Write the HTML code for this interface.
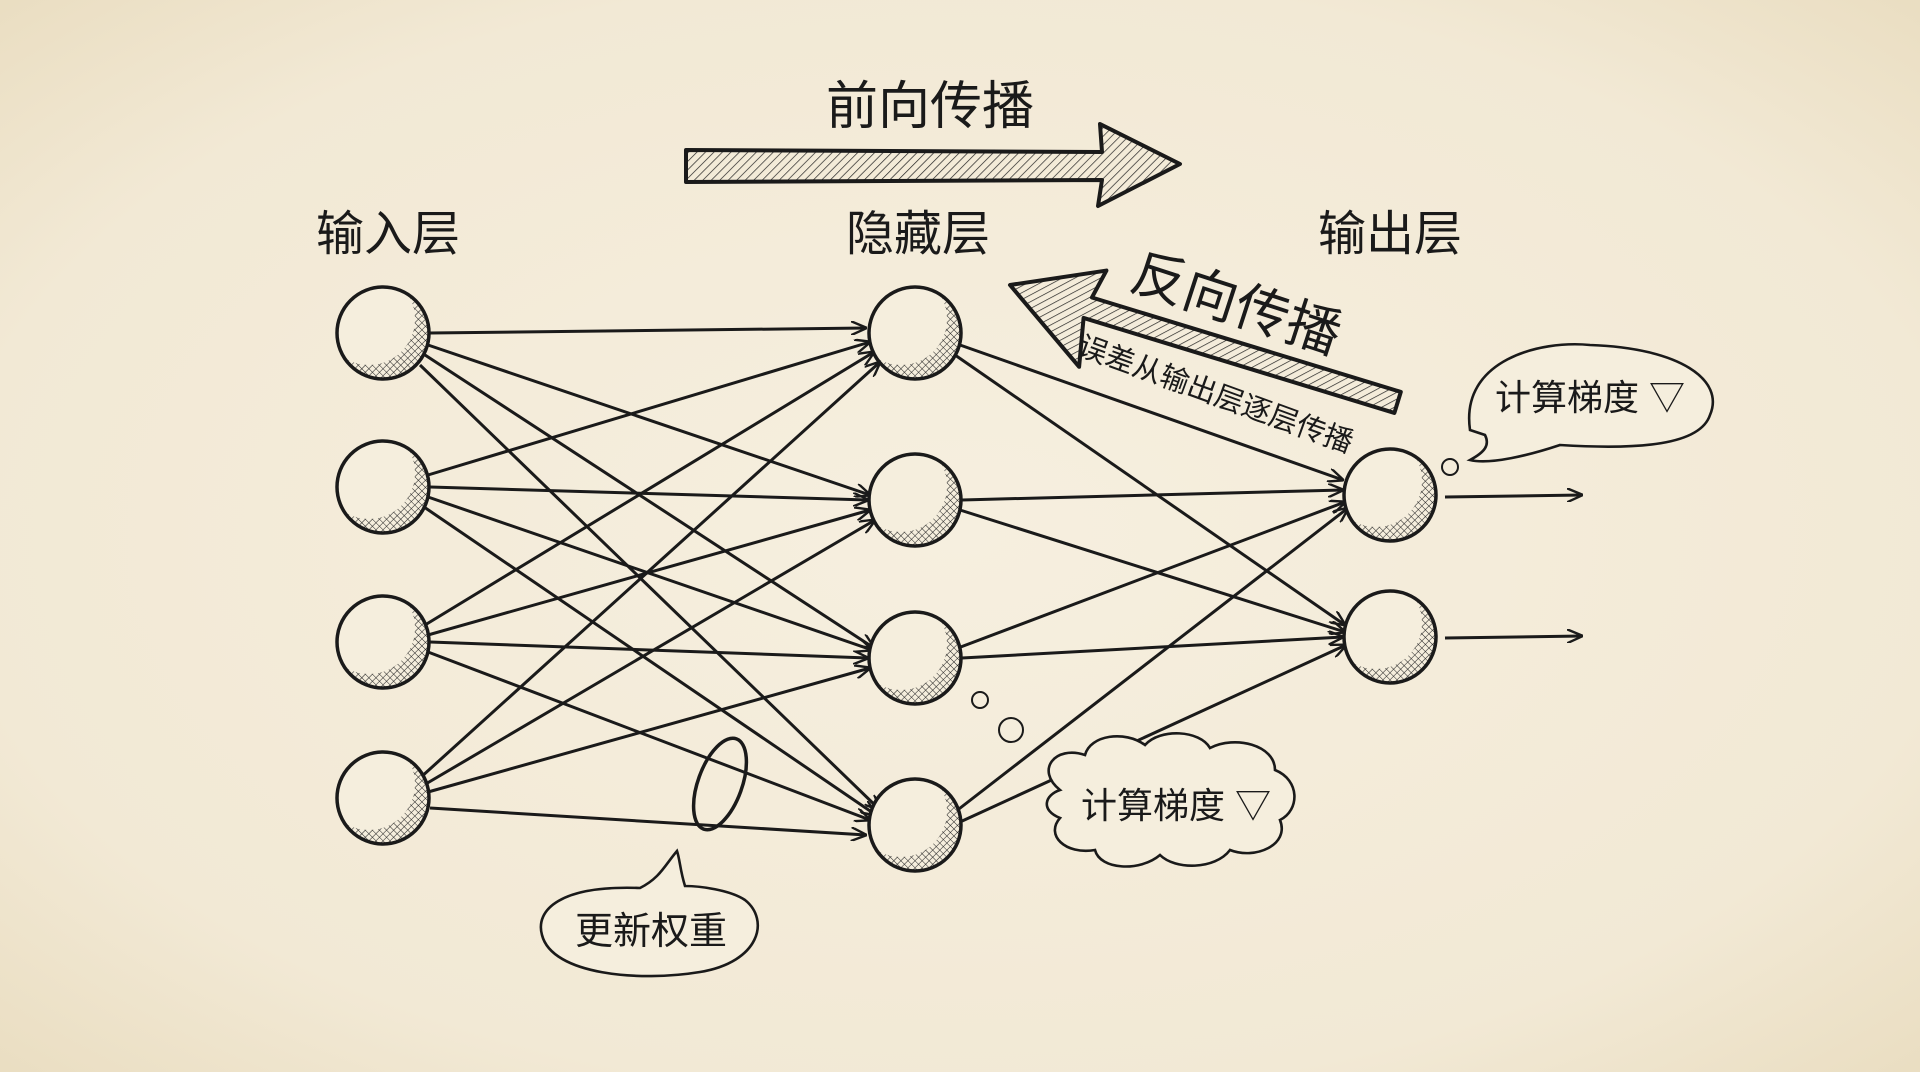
<!DOCTYPE html>
<html><head><meta charset="utf-8"><style>
html,body{margin:0;padding:0}
body{width:1920px;height:1072px;overflow:hidden;background:#f3ebd9;}
svg{display:block}
text{font-family:"Liberation Sans","Noto Sans CJK SC",sans-serif;fill:#1a1a1a}
</style></head><body>
<svg width="1920" height="1072" viewBox="0 0 1920 1072" xmlns="http://www.w3.org/2000/svg">
<defs>
<radialGradient id="bg" cx="50%" cy="50%" r="75%">
<stop offset="0" stop-color="#f6efdf"/><stop offset="0.7" stop-color="#f2e9d5"/><stop offset="1" stop-color="#e8dbbd"/>
</radialGradient>
<pattern id="hatch" width="6" height="6" patternUnits="userSpaceOnUse" patternTransform="rotate(45)">
<line x1="0" y1="0" x2="0" y2="6" stroke="#222" stroke-width="1.4"/></pattern>
<pattern id="cross" width="5" height="5" patternUnits="userSpaceOnUse" patternTransform="rotate(45)">
<path d="M0 0V5M0 0H5" stroke="#222" stroke-width="1.1"/></pattern>
<mask id="cres">
<circle r="46" fill="#fff"/><circle cx="-14" cy="-14" r="46" fill="#000"/>
</mask>
<marker id="ah" markerWidth="16" markerHeight="14" refX="15" refY="7" orient="auto" markerUnits="userSpaceOnUse">
<path d="M0 0L16 7L0 14" fill="none" stroke="#1a1a1a" stroke-width="2.4"/></marker>
<g id="node">
<circle r="46" fill="#f5eedd"/>
<circle r="46" fill="url(#cross)" mask="url(#cres)"/>
<circle r="46" fill="none" stroke="#1a1a1a" stroke-width="3.5"/>
</g>
</defs>
<rect width="1920" height="1072" fill="url(#bg)"/>

<g stroke="#1a1a1a" stroke-width="3" fill="none" marker-end="url(#ah)">
<line x1="430" y1="333" x2="866" y2="328"/>
<line x1="428" y1="345" x2="870" y2="495"/>
<line x1="425" y1="355" x2="874" y2="648"/>
<line x1="420" y1="365" x2="880" y2="810"/>
<line x1="428" y1="475" x2="870" y2="342"/>
<line x1="430" y1="487" x2="868" y2="500"/>
<line x1="428" y1="497" x2="872" y2="650"/>
<line x1="424" y1="507" x2="876" y2="815"/>
<line x1="425" y1="625" x2="874" y2="352"/>
<line x1="428" y1="635" x2="870" y2="510"/>
<line x1="430" y1="642" x2="868" y2="658"/>
<line x1="428" y1="652" x2="870" y2="820"/>
<line x1="420" y1="778" x2="880" y2="362"/>
<line x1="424" y1="785" x2="875" y2="520"/>
<line x1="428" y1="792" x2="870" y2="668"/>
<line x1="430" y1="808" x2="866" y2="835"/>
<line x1="960" y1="345" x2="1343" y2="480"/>
<line x1="955" y1="355" x2="1345" y2="625"/>
<line x1="962" y1="500" x2="1343" y2="490"/>
<line x1="960" y1="510" x2="1345" y2="632"/>
<line x1="958" y1="648" x2="1345" y2="502"/>
<line x1="962" y1="658" x2="1343" y2="637"/>
<line x1="955" y1="812" x2="1348" y2="508"/>
<line x1="960" y1="822" x2="1346" y2="645"/>
<line x1="1445" y1="497" x2="1582" y2="495"/>
<line x1="1445" y1="638" x2="1582" y2="636"/>
</g>

<use href="#node" x="383" y="333"/><use href="#node" x="383" y="487"/>
<use href="#node" x="383" y="642"/><use href="#node" x="383" y="798"/>
<use href="#node" x="915" y="333"/><use href="#node" x="915" y="500"/>
<use href="#node" x="915" y="658"/><use href="#node" x="915" y="825"/>
<use href="#node" x="1390" y="495"/><use href="#node" x="1390" y="637"/>

<text x="388" y="250" font-size="48" text-anchor="middle">输入层</text>
<text x="918" y="250" font-size="48" text-anchor="middle">隐藏层</text>
<text x="1390" y="250" font-size="48" text-anchor="middle">输出层</text>
<text x="930" y="124" font-size="52" text-anchor="middle">前向传播</text>

<path d="M686 150 L1102 152 L1100 124 L1180 164 L1098 206 L1102 180 L686 182Z" fill="url(#hatch)" stroke="#1a1a1a" stroke-width="4" stroke-linejoin="round"/>

<g transform="translate(1010,285) rotate(17)">
<path d="M0 0 L88 -42 L82 -12 L405 -12 L405 10 L80 10 L90 58Z" fill="url(#hatch)" stroke="#1a1a1a" stroke-width="4" stroke-linejoin="round"/>
</g>
<text x="0" y="0" font-size="54" transform="translate(1128,288) rotate(18)">反向传播</text>
<text x="0" y="0" font-size="29" transform="translate(1076,354) rotate(20)">误差从输出层逐层传播</text>

<path d="M1470 430 C1460 360 1540 340 1590 345 C1680 348 1725 380 1710 415 C1700 445 1640 450 1560 445 C1530 455 1490 465 1470 460 C1485 452 1490 445 1485 435Z" fill="#f5eedd" stroke="#1a1a1a" stroke-width="2.6"/>
<text x="1590" y="410" font-size="36" text-anchor="middle">计算梯度 ▽</text>
<circle cx="1450" cy="467" r="8" fill="none" stroke="#1a1a1a" stroke-width="2"/>

<path d="M1060 790 C1035 770 1055 745 1085 755 C1090 735 1125 730 1145 745 C1160 728 1200 730 1210 748 C1235 735 1275 745 1275 770 C1300 780 1300 810 1280 820 C1290 845 1255 860 1230 850 C1215 870 1175 870 1160 855 C1140 872 1100 870 1095 850 C1065 855 1045 835 1060 818 C1040 810 1045 795 1060 790Z" fill="#f5eedd" stroke="#1a1a1a" stroke-width="2.6"/>
<text x="1176" y="818" font-size="36" text-anchor="middle">计算梯度 ▽</text>
<circle cx="980" cy="700" r="8" fill="none" stroke="#1a1a1a" stroke-width="2"/>
<circle cx="1011" cy="730" r="12" fill="none" stroke="#1a1a1a" stroke-width="2"/>

<ellipse cx="720" cy="784" rx="22" ry="48" transform="rotate(20 720 784)" fill="none" stroke="#1a1a1a" stroke-width="3.5"/>
<path d="M640 888 C560 885 535 910 542 935 C552 975 640 982 700 972 C760 962 770 920 745 900 C730 890 700 886 685 886 C680 870 680 860 677 851 C665 865 660 878 640 888Z" fill="#f5eedd" stroke="#1a1a1a" stroke-width="2.6"/>
<text x="651" y="944" font-size="38" text-anchor="middle">更新权重</text>
</svg>
</body></html>
